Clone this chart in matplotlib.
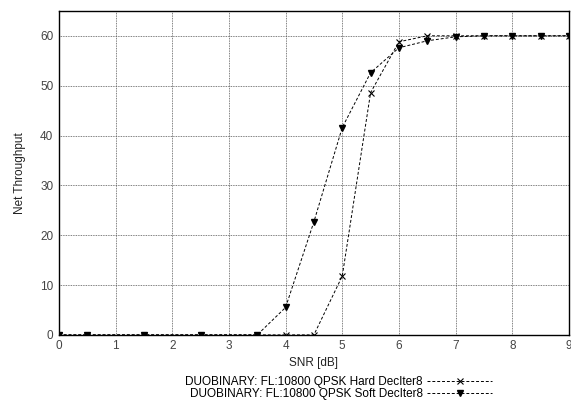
import matplotlib.pyplot as plt

plt.rcParams['font.family'] = ['Liberation Sans', 'DejaVu Sans']

snr = [0, 0.5, 1.5, 2.5, 3.5, 4, 4.5, 5, 5.5, 6, 6.5, 7, 7.5, 8, 8.5, 9]
hard = [0, 0, 0, 0, 0, 0, 0, 11.8, 48.6, 58.8, 60.0, 60.0, 60.0, 60.0, 60.0, 60.0]
soft = [0, 0, 0, 0, 0, 5.5, 22.7, 41.6, 52.6, 57.6, 59.0, 59.8, 60.0, 60.0, 60.0, 60.0]

fig = plt.figure(figsize=(5.71, 4.03), dpi=100)
ax = fig.add_axes([0.103, 0.169, 0.8935, 0.804])

ax.plot(snr, hard, color='black', linestyle='--', linewidth=0.7, marker='x',
        markersize=5, markeredgewidth=0.8, dashes=(3, 2),
        label='DUOBINARY: FL:10800 QPSK Hard DecIter8')
ax.plot(snr, soft, color='black', linestyle='--', linewidth=0.7, marker='v',
        markersize=4, dashes=(3, 2),
        label='DUOBINARY: FL:10800 QPSK Soft DecIter8')

ax.set_xlim(0, 9)
ax.set_ylim(0, 65)
ax.set_xticks(range(0, 10))
ax.set_yticks(range(0, 61, 10))
ax.grid(True, color='#555555', linestyle=(0, (1, 1)), linewidth=0.6)
ax.tick_params(length=0, labelsize=8.5, labelcolor='#444444', pad=4)
for s in ax.spines.values():
    s.set_linewidth(1.0)
    s.set_color('black')

ax.set_xlabel('SNR [dB]', fontsize=8.5, color='#222222', labelpad=3)
ax.set_ylabel('Net Throughput', fontsize=8.5, color='#222222', labelpad=10)

fig.legend(loc='upper center', bbox_to_anchor=(0.593, 0.081), frameon=False,
           markerfirst=False, fontsize=8.5, handlelength=5.5, labelspacing=0.0,
           borderpad=0, handletextpad=0.4)

fig.savefig('out.png', dpi=100)
